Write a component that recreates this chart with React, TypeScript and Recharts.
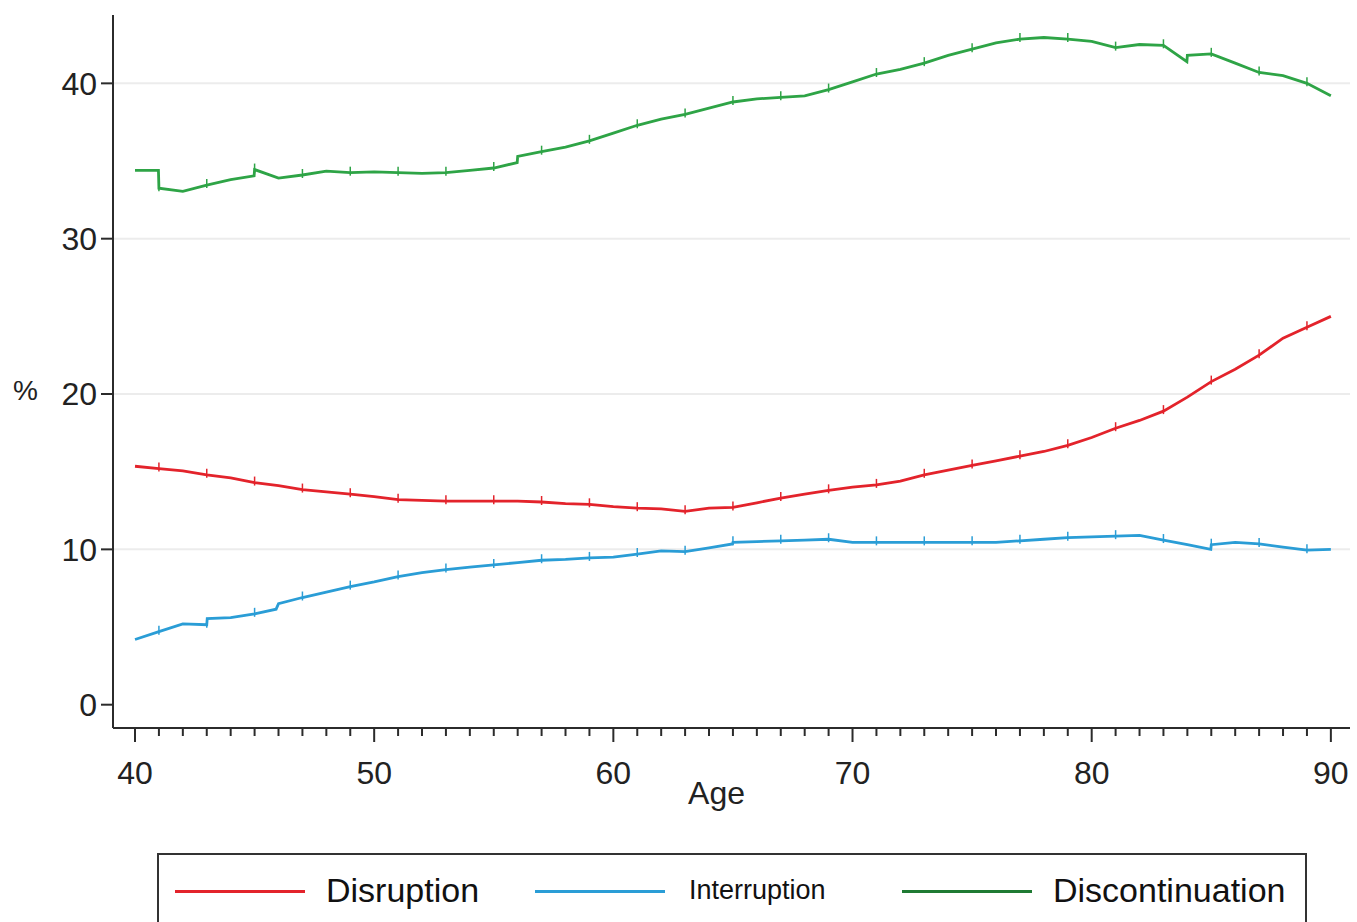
import React from "react";
import {
  LineChart,
  Line,
  XAxis,
  YAxis,
  CartesianGrid,
  Label,
} from "recharts";

// Age (years) and cumulative % per outcome
const disruptionAges = [
  40, 41, 42, 43, 44, 45, 46, 47, 48, 49, 50, 51, 52, 53, 54, 55, 56, 57, 58, 59, 60,
  61, 62, 63, 64, 65, 66, 67, 68, 69, 70, 71, 72, 73, 74, 75, 76, 77, 78, 79, 80,
  81, 82, 83, 84, 85, 86, 87, 88, 89, 90,
];
const disruptionValues = [
  15.35, 15.2, 15.05, 14.8, 14.6, 14.3, 14.1, 13.85, 13.7, 13.55, 13.4, 13.2, 13.15,
  13.1, 13.1, 13.1, 13.1, 13.05, 12.95, 12.9, 12.75, 12.65, 12.6, 12.45, 12.65, 12.7,
  13.0, 13.3, 13.55, 13.8, 14.0, 14.15, 14.4, 14.8, 15.1, 15.4, 15.7, 16.0, 16.3,
  16.7, 17.2, 17.8, 18.3, 18.9, 19.8, 20.8, 21.6, 22.5, 23.6, 24.3, 25.0,
];

const interruptionAges = [
  40, 41, 42, 43, 43.02, 44, 45, 45.9, 46, 47, 48, 49, 50, 51, 52, 53, 54, 55, 56, 57,
  58, 59, 60, 61, 62, 63, 64, 64.98, 65, 66, 67, 68, 69, 70, 71, 72, 73, 74, 75, 76,
  77, 78, 79, 80, 81, 82, 83, 84, 84.98, 85, 86, 87, 88, 89, 90,
];
const interruptionValues = [
  4.2, 4.7, 5.2, 5.15, 5.55, 5.6, 5.85, 6.15, 6.5, 6.9, 7.25, 7.6, 7.9, 8.25, 8.5,
  8.7, 8.85, 9.0, 9.15, 9.3, 9.35, 9.45, 9.5, 9.7, 9.9, 9.85, 10.1, 10.35, 10.45,
  10.5, 10.55, 10.6, 10.65, 10.45, 10.45, 10.45, 10.45, 10.45, 10.45, 10.45, 10.55,
  10.65, 10.75, 10.8, 10.85, 10.9, 10.6, 10.3, 10.0, 10.3, 10.45, 10.35, 10.15, 9.95,
  10.0,
];

const discontinuationAges = [
  40, 40.98, 41, 42, 43, 44, 44.98, 45, 46, 47, 48, 49, 50, 51, 52, 53, 54, 55, 55.98,
  56, 57, 58, 59, 60, 61, 62, 63, 64, 65, 66, 67, 68, 69, 70, 71, 72, 73, 74, 75, 76,
  77, 78, 79, 80, 81, 82, 83, 83.98, 84, 85, 86, 87, 88, 89, 90,
];
const discontinuationValues = [
  34.4, 34.4, 33.25, 33.05, 33.45, 33.8, 34.05, 34.45, 33.9, 34.1, 34.35, 34.25, 34.3,
  34.25, 34.2, 34.25, 34.4, 34.55, 34.9, 35.3, 35.6, 35.9, 36.3, 36.8, 37.3, 37.7,
  38.0, 38.4, 38.8, 39.0, 39.1, 39.2, 39.6, 40.1, 40.6, 40.9, 41.3, 41.8, 42.2, 42.6,
  42.85, 42.95, 42.85, 42.7, 42.3, 42.5, 42.45, 41.4, 41.8, 41.9, 41.3, 40.7, 40.5,
  40.0, 39.2,
];

const xTicks = Array.from({ length: 51 }, (_, i) => 40 + i);
const yTicks = [0, 10, 20, 30, 40];

const series = [
  { name: "Disruption", color: "#e3232b", legendColor: "#e3232b", ages: disruptionAges, values: disruptionValues, size: 34 },
  { name: "Interruption", color: "#2a9dd6", legendColor: "#2a9dd6", ages: interruptionAges, values: interruptionValues, size: 27 },
  { name: "Discontinuation", color: "#2ea446", legendColor: "#1f7a33", ages: discontinuationAges, values: discontinuationValues, size: 34 },
];

const FONT = '"Liberation Sans", Arial, sans-serif';
const AXIS = "#2b2b2b";

function AgeTick(props: any) {
  const { x, y, payload } = props;
  const major = payload.value % 10 === 0;
  return (
    <g>
      <line x1={x} x2={x} y1={y} y2={y + (major ? 14 : 8)} stroke={AXIS} strokeWidth={2} />
      {major && (
        <text x={x} y={y + 56} textAnchor="middle" fontSize={32} fontFamily={FONT} fill="#222">
          {payload.value}
        </text>
      )}
    </g>
  );
}

// small vertical censoring marks, on odd whole years only
function CensorMark(props: any) {
  const { cx, cy, payload, stroke } = props;
  if (cx == null || cy == null || !Number.isInteger(payload.age) || payload.age % 2 === 0) return <g />;
  return <line x1={cx} x2={cx} y1={cy - 6} y2={cy + 3} stroke={stroke} strokeWidth={1.5} />;
}

export default function App() {
  return (
    <div style={{ position: "absolute", left: 0, top: 0, width: 1357, height: 922, background: "#fff", overflow: "hidden", fontFamily: FONT }}>
      <LineChart width={1357} height={850} margin={{ top: 15, right: 7, left: 13, bottom: 42 }}>
        <CartesianGrid horizontal vertical={false} horizontalValues={[10, 20, 30, 40]} stroke="#ececec" strokeWidth={2} />
        <XAxis
          type="number"
          dataKey="age"
          domain={[39.08, 90.8]}
          ticks={xTicks}
          interval={0}
          allowDataOverflow
          height={80}
          tickSize={0}
          tickMargin={0}
          tick={<AgeTick />}
          axisLine={{ stroke: AXIS, strokeWidth: 2 }}
        >
          <Label value="Age" position="insideBottom" offset={4} dx={-15} fontSize={32} fontFamily={FONT} fill="#222" />
        </XAxis>
        <YAxis
          type="number"
          domain={[-1.5, 44.4]}
          ticks={yTicks}
          allowDataOverflow
          width={100}
          tickSize={12}
          tickMargin={4}
          tick={{ fontSize: 32, fontFamily: FONT, fill: "#222" }}
          tickLine={{ stroke: AXIS, strokeWidth: 2 }}
          axisLine={{ stroke: AXIS, strokeWidth: 2 }}
        >
          <Label value="%" position="insideLeft" offset={0} dy={19} fontSize={28} fontFamily={FONT} fill="#222" />
        </YAxis>
        {series.map((s) => (
          <Line
            key={s.name}
            name={s.name}
            data={s.ages.map((age, i) => ({ age, v: s.values[i] }))}
            dataKey="v"
            type="linear"
            stroke={s.color}
            strokeWidth={2.8}
            dot={<CensorMark />}
            activeDot={false}
            isAnimationActive={false}
          />
        ))}
      </LineChart>
      <div
        style={{
          position: "absolute",
          left: 157,
          top: 853,
          width: 1150,
          height: 80,
          border: "2px solid #333",
          boxSizing: "border-box",
        }}
      >
        {series.map((s, i) => {
          const lefts = [16, 376, 743];
          const textLefts = [167, 530, 894];
          return (
            <React.Fragment key={s.name}>
              <div style={{ position: "absolute", left: lefts[i], top: 35, width: 130, height: 3, background: s.legendColor }} />
              <div style={{ position: "absolute", left: textLefts[i], top: 36 - s.size * 0.62, fontSize: s.size, lineHeight: 1.2, color: "#111", whiteSpace: "nowrap" }}>
                {s.name}
              </div>
            </React.Fragment>
          );
        })}
      </div>
    </div>
  );
}
